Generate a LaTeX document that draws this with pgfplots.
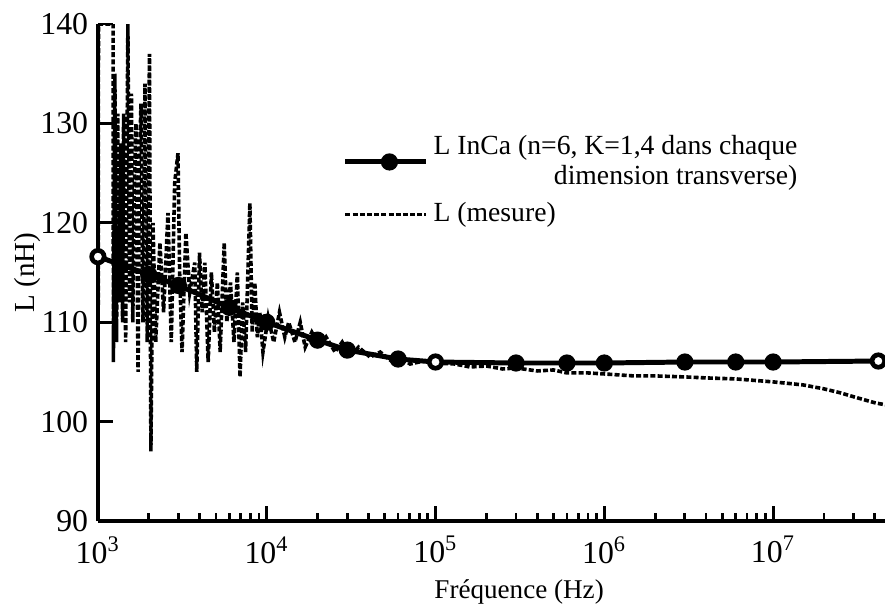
\documentclass[border=0pt]{standalone}
\usepackage{fontspec}
\setmainfont{Liberation Serif}
\usepackage{pgfplots}
\pgfplotsset{compat=1.18}

\begin{document}
\begin{tikzpicture}
  \begin{axis}[
    name=ax,
    scale only axis,
    width=284.6pt, height=179.7pt,
    xmode=log, log basis x=10,
    xmin=1000, xmax=4.6e7,
    ymin=90, ymax=140,
    axis lines=left,
    axis line style={-, line width=1.3pt},
    tick align=inside,
    tick style={black, line width=1pt},
    major tick length=5.5pt,
    minor tick length=3pt,
    xtick={1e3,1e4,1e5,1e6,1e7},
    minor xtick={2e3,3e3,4e3,5e3,6e3,7e3,8e3,9e3,
                 2e4,3e4,4e4,5e4,6e4,7e4,8e4,9e4,
                 2e5,3e5,4e5,5e5,6e5,7e5,8e5,9e5,
                 2e6,3e6,4e6,5e6,6e6,7e6,8e6,9e6,
                 2e7,3e7,4e7},
    xticklabels={10\textsuperscript{3},10\textsuperscript{4},10\textsuperscript{5},10\textsuperscript{6},10\textsuperscript{7}},
    ytick={90,100,110,120,130,140},
    yticklabels={90,100,110,120,130,140},
    ticklabel style={font=\fontsize{11.5}{13}\selectfont},
    xticklabel style={yshift=-2pt},
    xlabel={Fréquence (Hz)},
    ylabel={L (nH)},
    xlabel style={font=\fontsize{9.8}{11}\selectfont, xshift=10pt, yshift=1pt},
    ylabel style={font=\fontsize{10.5}{12}\selectfont},
    ylabel shift=-7pt,
    legend style={at={(rel axis cs:0.3,0.8)}, anchor=north west, draw=none, fill=none,
      font=\fontsize{10}{11}\selectfont, nodes={align=right}, row sep=1pt},
    legend cell align=left,
    reverse legend,
    legend image code/.code={\draw[mark repeat=2,mark phase=2,#1] plot coordinates {(0cm,0cm) (0.56cm,0cm) (1.02cm,0cm)};},
  ]
    % mesure
    \addplot[black, line width=1.3pt, dash pattern=on 1.8pt off 0.8pt] coordinates {
      (1000,116) (1001,90) (1008,140) (1230,140) (1235,106) (1260,135) (1290,108)
      (1310,131) (1330,112) (1370,128) (1400,110) (1420,131) (1460,108) (1505,140)
      (1540,112) (1560,129) (1580,133) (1610,110) (1630,121) (1680,130) (1730,105)
      (1760,126) (1800,132) (1850,110) (1900,134) (1960,108) (2020,137) (2060,97)
      (2120,120) (2200,108) (2330,118) (2450,111) (2600,121) (2720,108) (2850,124)
      (2980,127) (3050,115) (3150,107) (3320,119) (3500,113)
      (3750,116) (3850,105) (4000,117) (4150,111) (4300,116) (4500,106) (4700,115)
      (4900,109) (5100,114) (5300,107) (5600,118) (5800,110) (6100,114) (6400,108)
      (6700,115) (6950,104.5) (7200,112) (7500,107) (7950,122) (8200,109) (8500,114)
      (8800,108.5) (9100,111) (9500,107) (10200,110.5) (11000,108) (11900,111)
      (12800,108.5) (13500,110) (14700,108) (15800,110) (16900,107.5) (18500,109)
      (20700,107.5) (22500,108.5) (25400,107) (28000,108) (31200,106.5) (35000,107.5)
      (40900,106.5) (47000,107) (53800,106.2) (60000,106.6) (70700,105.8) (85000,106.1)
      (99500,105.9) (130000,105.8) (160000,105.5) (200000,105.6) (250000,105.3)
      (300000,105.4) (400000,105.1) (500000,105.2) (600000,104.9) (800000,104.9)
      (1000000,104.8) (1500000,104.6) (2000000,104.6) (3000000,104.5) (4000000,104.4)
      (6000000,104.3) (10000000,104.0) (15000000,103.7) (20000000,103.3)
      (25000000,102.9) (30000000,102.5) (40000000,101.9) (46000000,101.7)
    };
    \addlegendentry{L (mesure)}
    % InCa
    \addplot[black, line width=1.8pt, mark=*, mark size=2.2pt] coordinates {
      (1000,116.6) (2000,114.8) (3000,113.7) (6000,111.5) (10000,110.0)
      (20000,108.2) (30000,107.2) (60000,106.3) (100000,106.0) (300000,105.9)
      (600000,105.9) (1000000,105.9) (3000000,106.0) (6000000,106.0)
      (10000000,106.0) (42000000,106.1)
    };
    \addlegendentry{L InCa (n=6, K=1,4 dans chaque\\dimension transverse)}
    \addplot[only marks, black, line width=1pt, mark=*, mark size=2pt, mark options={fill=white}, forget plot] coordinates {
      (1000,116.6) (100000,106.0) (42000000,106.1)
    };
  \end{axis}
  \pgfresetboundingbox
  \path (ax.south west) ++(-35.4pt,-30.4pt) rectangle ([yshift=8.7pt]ax.north east);
\end{tikzpicture}
\end{document}
